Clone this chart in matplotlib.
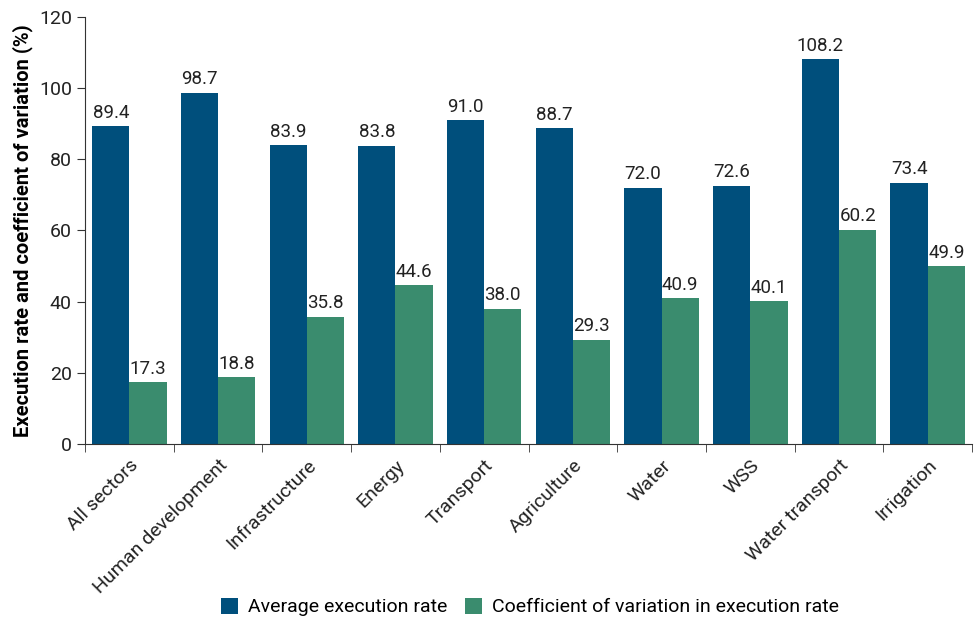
import numpy as np
import matplotlib.pyplot as plt
from matplotlib.ticker import FixedLocator, NullFormatter

plt.rcParams['font.family'] = ['Roboto', 'DejaVu Sans']

categories = ['All sectors', 'Human development', 'Infrastructure', 'Energy', 'Transport',
              'Agriculture', 'Water', 'WSS', 'Water transport', 'Irrigation']
avg_rate = [89.4, 98.7, 83.9, 83.8, 91.0, 88.7, 72.0, 72.6, 108.2, 73.4]
cv_rate = [17.3, 18.8, 35.8, 44.6, 38.0, 29.3, 40.9, 40.1, 60.2, 49.9]

BLUE = '#004f7c'
GREEN = '#3a8c6e'

fig = plt.figure(figsize=(9.74, 6.19), dpi=100)
ax = fig.add_axes([0.0873, 0.2827, 0.9107, 0.69])

x = np.arange(len(categories))
w = 0.42
b1 = ax.bar(x - w / 2, avg_rate, w, color=BLUE, label='Average execution rate')
b2 = ax.bar(x + w / 2, cv_rate, w, color=GREEN, label='Coefficient of variation in execution rate')

for bars in (b1, b2):
    for r in bars:
        ax.text(r.get_x() + r.get_width() / 2, r.get_height() + 1.2, f"{r.get_height():.1f}",
                ha='center', va='bottom', fontsize=13.5, color='#222222')

ax.set_xlim(-0.5, len(categories) - 0.5)
ax.set_ylim(0, 120)
ax.set_yticks(range(0, 121, 20))
ax.tick_params(axis='y', labelsize=14, length=6, color='#333333', labelcolor='#222222')

ax.set_xticks(x)
ax.set_xticklabels(categories, rotation=45, ha='right', rotation_mode='anchor', fontsize=14,
                   color='#222222')
ax.tick_params(axis='x', which='major', length=0, pad=9)
ax.xaxis.set_minor_locator(FixedLocator(np.arange(-0.5, len(categories), 1.0)))
ax.xaxis.set_minor_formatter(NullFormatter())
ax.tick_params(axis='x', which='minor', length=6, color='#333333')

for s in ('top', 'right'):
    ax.spines[s].set_visible(False)
for s in ('left', 'bottom'):
    ax.spines[s].set_color('#333333')

ax.set_ylabel('Execution rate and coefficient of variation (%)', fontsize=14.5,
              fontweight='bold', labelpad=4)

fig.legend(handles=[b1, b2], loc='lower center', bbox_to_anchor=(0.544, -0.024), ncol=2,
           frameon=False, fontsize=14, handlelength=0.9, handleheight=0.9,
           columnspacing=0.9, handletextpad=0.5)

fig.savefig('out.png', dpi=100)
